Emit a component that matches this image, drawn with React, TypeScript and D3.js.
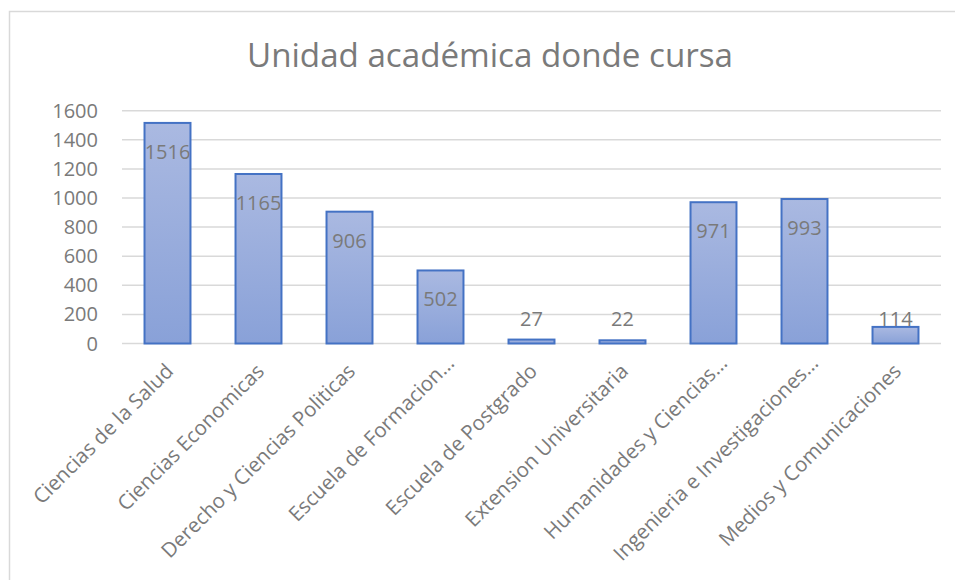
import React from "react";
import * as d3 from "d3";

const categories = [
  "Ciencias de la Salud",
  "Ciencias Economicas",
  "Derecho y Ciencias Politicas",
  "Escuela de Formacion…",
  "Escuela de Postgrado",
  "Extension Universitaria",
  "Humanidades y Ciencias…",
  "Ingenieria e Investigaciones…",
  "Medios y Comunicaciones",
];
const values = [1516, 1165, 906, 502, 27, 22, 971, 993, 114];
const yTicks = [0, 200, 400, 600, 800, 1000, 1200, 1400, 1600];
const title = "Unidad académica donde cursa";

const W = 955;
const H = 580;
const plotLeft = 122;
const plotRight = 941;
const plotTop = 110.7;
const plotBottom = 343.5;
const textColor = "#7a7a7a";
const font = "'Open Sans', sans-serif";

export default function App() {
  const x = d3
    .scaleBand<string>()
    .domain(categories)
    .range([plotLeft, plotRight])
    .paddingInner(0.495)
    .paddingOuter(0.2475);
  const y = d3.scaleLinear().domain([0, 1600]).range([plotBottom, plotTop]);

  return (
    <svg
      width={W}
      height={H}
      style={{ position: "absolute", left: 0, top: 0, background: "#fff" }}
    >
      <defs>
        <linearGradient id="barGrad" x1="0" y1="0" x2="0" y2="1">
          <stop offset="0" stopColor="#aab9e1" />
          <stop offset="1" stopColor="#89a1d8" />
        </linearGradient>
      </defs>
      <rect x={0} y={0} width={W} height={H} fill="#fff" />
      <rect
        x={9.5}
        y={11.5}
        width={W + 10}
        height={H + 10}
        fill="none"
        stroke="#d9d9d9"
        strokeWidth={1.5}
      />
      <text
        x={490}
        y={67}
        textAnchor="middle"
        fontFamily={font}
        fontSize={32}
        fill={textColor}
        textLength={486}
        lengthAdjust="spacingAndGlyphs"
      >
        {title}
      </text>
      {yTicks.map((t) => (
        <g key={t}>
          <line
            x1={plotLeft}
            x2={plotRight}
            y1={y(t)}
            y2={y(t)}
            stroke="#d9d9d9"
            strokeWidth={1.5}
          />
          <text
            x={98}
            y={y(t)}
            dy="0.35em"
            textAnchor="end"
            fontFamily={font}
            fontSize={20}
            fill={textColor}
          >
            {t}
          </text>
        </g>
      ))}
      {categories.map((c, i) => {
        const v = values[i];
        const bx = x(c)!;
        const bw = x.bandwidth();
        const top = y(v);
        const labelY = Math.min(top + 29, plotBottom - 25);
        const cx = bx + bw / 2;
        const truncated = c.endsWith("…");
        const ax = truncated ? cx + 15 : cx + 7;
        const ay = truncated ? plotBottom + 21 : plotBottom + 29;
        return (
          <g key={c}>
            <rect
              x={bx}
              y={top}
              width={bw}
              height={plotBottom - top}
              fill="url(#barGrad)"
              stroke="#4472c4"
              strokeWidth={2}
            />
            <text
              x={cx}
              y={labelY}
              dy="0.35em"
              textAnchor="middle"
              fontFamily={font}
              fontSize={20}
              fill={textColor}
            >
              {v}
            </text>
            <text
              transform={`translate(${ax},${ay}) rotate(-45)`}
              textAnchor="end"
              fontFamily={font}
              fontSize={20.5}
              fill={textColor}
            >
              {c}
            </text>
          </g>
        );
      })}
    </svg>
  );
}
